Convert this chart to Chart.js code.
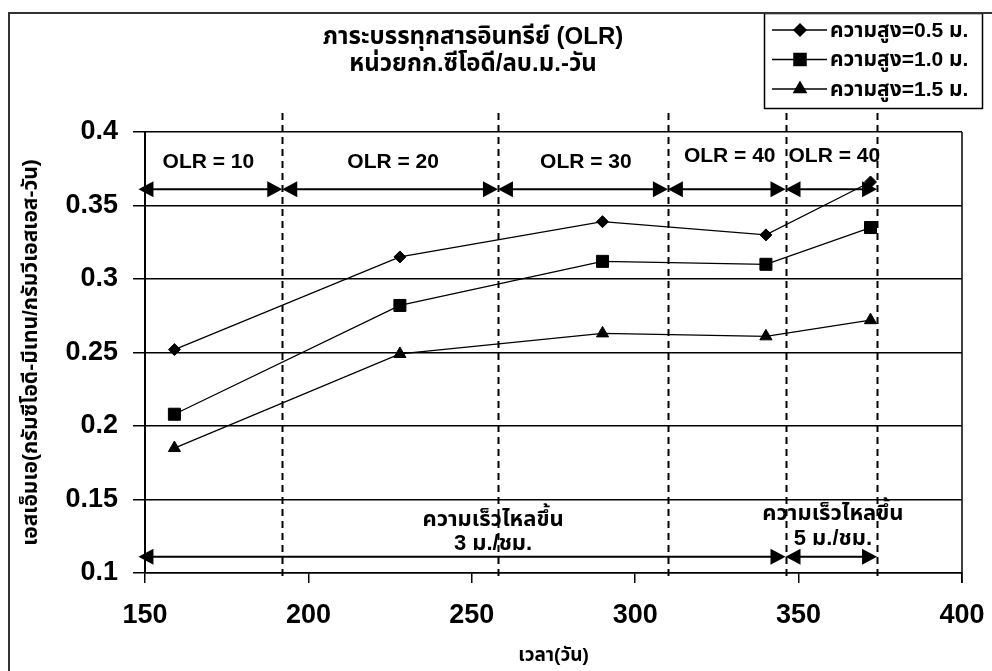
<!DOCTYPE html>
<html><head><meta charset="utf-8">
<script src="https://cdn.jsdelivr.net/npm/chart.js@4.4.1/dist/chart.umd.min.js"></script>
<style>html,body{margin:0;padding:0;background:#fff;} #wrap{width:992px;height:671px;position:relative}</style>
</head><body><div id="wrap"><canvas id="c" width="992" height="671"></canvas></div>
<script>
const days = [159, 228, 290, 340, 372];
const h05 = [0.252, 0.315, 0.339, 0.330, 0.366];
const h10 = [0.208, 0.282, 0.312, 0.310, 0.335];
const h15 = [0.185, 0.249, 0.263, 0.261, 0.272];
const seriesLabels = ['ความสูง=0.5 ม.', 'ความสูง=1.0 ม.', 'ความสูง=1.5 ม.'];
const xTicks = [150, 200, 250, 300, 350, 400];
const yTicks = [0.1, 0.15, 0.2, 0.25, 0.3, 0.35, 0.4];
const olrBounds = [148, 192, 258, 310, 346, 374];
const olrLabels = ['OLR = 10', 'OLR = 20', 'OLR = 30', 'OLR = 40', 'OLR = 40'];
const olrArrowY = 0.361;
const dashedX = [192, 258, 310, 346, 374];
const velBounds = [148, 346, 374];
const velArrowY = 0.111;
const velLines = [['ความเร็วไหลขึ้น', '3 ม./ชม.'], ['ความเร็วไหลขึ้น', '5 ม./ชม.']];
const titleLines = ['ภาระบรรทุกสารอินทรีย์ (OLR)', 'หน่วยกก.ซีโอดี/ลบ.ม.-วัน'];
const xTitle = 'เวลา(วัน)';
const yTitle = 'เอสเอ็มเอ(กรัมซีโอดี-มีเทน/กรัมวีเอสเอส-วัน)';

const F = "'Liberation Sans', Arial, 'Noto Sans Thai', 'Noto Sans', sans-serif";
const pointStyles = ['rectRot', 'rect', 'triangle'];
const pointRadii = [6, 8.5, 7];
const seriesValues = [h05, h10, h15];

function arrow(ctx, x1, x2, y) {
  const L = 15, H = 8;
  ctx.beginPath(); ctx.moveTo(x1 + L - 2, y); ctx.lineTo(x2 - L + 2, y); ctx.stroke();
  ctx.beginPath(); ctx.moveTo(x1, y); ctx.lineTo(x1 + L, y - H); ctx.lineTo(x1 + L, y + H); ctx.closePath(); ctx.fill();
  ctx.beginPath(); ctx.moveTo(x2, y); ctx.lineTo(x2 - L, y - H); ctx.lineTo(x2 - L, y + H); ctx.closePath(); ctx.fill();
}

const decor = {
  id: 'decor',
  beforeDatasetsDraw(chart) {
    const ctx = chart.ctx, xs = chart.scales.x, a = chart.chartArea;
    ctx.save();
    ctx.strokeStyle = '#000'; ctx.lineWidth = 2; ctx.setLineDash([7, 5]);
    dashedX.forEach(v => {
      const px = Math.round(xs.getPixelForValue(v)) + 0.5;
      ctx.beginPath(); ctx.moveTo(px, a.top - 19); ctx.lineTo(px, a.bottom + 3); ctx.stroke();
    });
    ctx.setLineDash([]);
    ctx.lineWidth = 1.5;
    ctx.beginPath(); ctx.moveTo(a.right, a.top); ctx.lineTo(a.right, a.bottom + 10); ctx.stroke();
    ctx.restore();
  },
  afterDatasetsDraw(chart) {
    const ctx = chart.ctx, xs = chart.scales.x, ys = chart.scales.y;
    ctx.save();
    ctx.strokeStyle = '#000'; ctx.fillStyle = '#000'; ctx.lineWidth = 2;
    const ay = ys.getPixelForValue(olrArrowY);
    for (let i = 0; i < olrBounds.length - 1; i++) {
      arrow(ctx, xs.getPixelForValue(olrBounds[i]), xs.getPixelForValue(olrBounds[i + 1]), ay);
    }
    ctx.font = 'bold 21px ' + F; ctx.textAlign = 'center'; ctx.textBaseline = 'middle';
    olrLabels.forEach((t, i) => {
      const cx = (xs.getPixelForValue(olrBounds[i]) + xs.getPixelForValue(olrBounds[i + 1])) / 2;
      const dy = i >= 3 ? 33 : 27;
      ctx.fillText(t, cx + (i === 0 ? -2 : 3), ay - dy);
    });
    const vy = ys.getPixelForValue(velArrowY);
    for (let i = 0; i < velBounds.length - 1; i++) {
      arrow(ctx, xs.getPixelForValue(velBounds[i]), xs.getPixelForValue(velBounds[i + 1]), vy);
    }
    ctx.font = 'bold 22px ' + F;
    const velX = [256.5, 360.5];
    const velDy = [[37, 13], [43, 18]];
    velLines.forEach((lines, i) => {
      const cx = xs.getPixelForValue(velX[i]);
      lines.forEach((t, j) => ctx.fillText(t, cx, vy - velDy[i][j]));
    });
    ctx.font = 'bold 24px ' + F;
    titleLines.forEach((t, j) => ctx.fillText(t, 473, 37 + j * 27));
    ctx.lineWidth = 1.5;
    ctx.strokeRect(764.5, 13.5, 218, 95);
    ctx.font = 'bold 21px ' + F; ctx.textAlign = 'left';
    chart.data.datasets.forEach((ds, i) => {
      const y = 30 + i * 29.5;
      ctx.lineWidth = 1.5;
      ctx.beginPath(); ctx.moveTo(772, y); ctx.lineTo(827, y); ctx.stroke();
      Chart.helpers.drawPoint(ctx, { pointStyle: ds.pointStyle, radius: ds.pointRadius, borderWidth: 1 }, 800, y);
      ctx.fill();
      ctx.fillText(ds.label, 830, y + 1);
    });
    ctx.lineWidth = 2; ctx.strokeStyle = '#333';
    ctx.strokeRect(9, 13, 1100, 800);
    ctx.restore();
  }
};

new Chart(document.getElementById('c'), {
  type: 'scatter',
  data: {
    datasets: seriesValues.map((vals, i) => ({
      label: seriesLabels[i],
      data: days.map((d, k) => ({ x: d, y: vals[k] })),
      showLine: true,
      borderColor: '#000',
      backgroundColor: '#000',
      borderWidth: 1.3,
      pointStyle: pointStyles[i],
      pointRadius: pointRadii[i],
      pointHoverRadius: pointRadii[i],
      pointBorderWidth: 1,
      tension: 0
    }))
  },
  options: {
    responsive: false,
    animation: false,
    layout: { padding: { left: 0, top: 132, right: 30, bottom: 0 } },
    plugins: { legend: { display: false }, tooltip: { enabled: false }, title: { display: false } },
    scales: {
      x: {
        type: 'linear', min: 150, max: 400,
        afterBuildTicks: s => { s.ticks = xTicks.map(v => ({ value: v })); },
        afterFit: s => { s.height = 98; s.paddingLeft = 0; s.paddingRight = 0; },
        grid: { drawOnChartArea: false, drawTicks: true, tickLength: 10, color: '#000', lineWidth: 1.5 },
        border: { color: '#000', width: 1.5 },
        ticks: { color: '#000', font: { family: F, size: 27, weight: 'bold' }, padding: 16, maxRotation: 0 },
        title: { display: true, text: xTitle, color: '#000', font: { family: F, size: 19, weight: 'bold' }, padding: { top: 4, bottom: 4 } }
      },
      y: {
        type: 'linear', min: 0.1, max: 0.4,
        afterBuildTicks: s => { s.ticks = yTicks.map(v => ({ value: v })); },
        afterFit: s => { s.width = 145; s.paddingTop = 0; s.paddingBottom = 0; },
        grid: { drawOnChartArea: true, drawTicks: true, tickLength: 12, color: '#000', lineWidth: 1.5 },
        border: { color: '#000', width: 2 },
        ticks: { color: '#000', font: { family: F, size: 27, weight: 'bold' }, padding: 15,
          callback: v => String(Number(v.toFixed(2))) },
        title: { display: true, text: yTitle, color: '#000', font: { family: F, size: 21, weight: 'bold' }, padding: { top: 19, bottom: 19 } }
      }
    }
  },
  plugins: [decor]
});
</script>
</body></html>
